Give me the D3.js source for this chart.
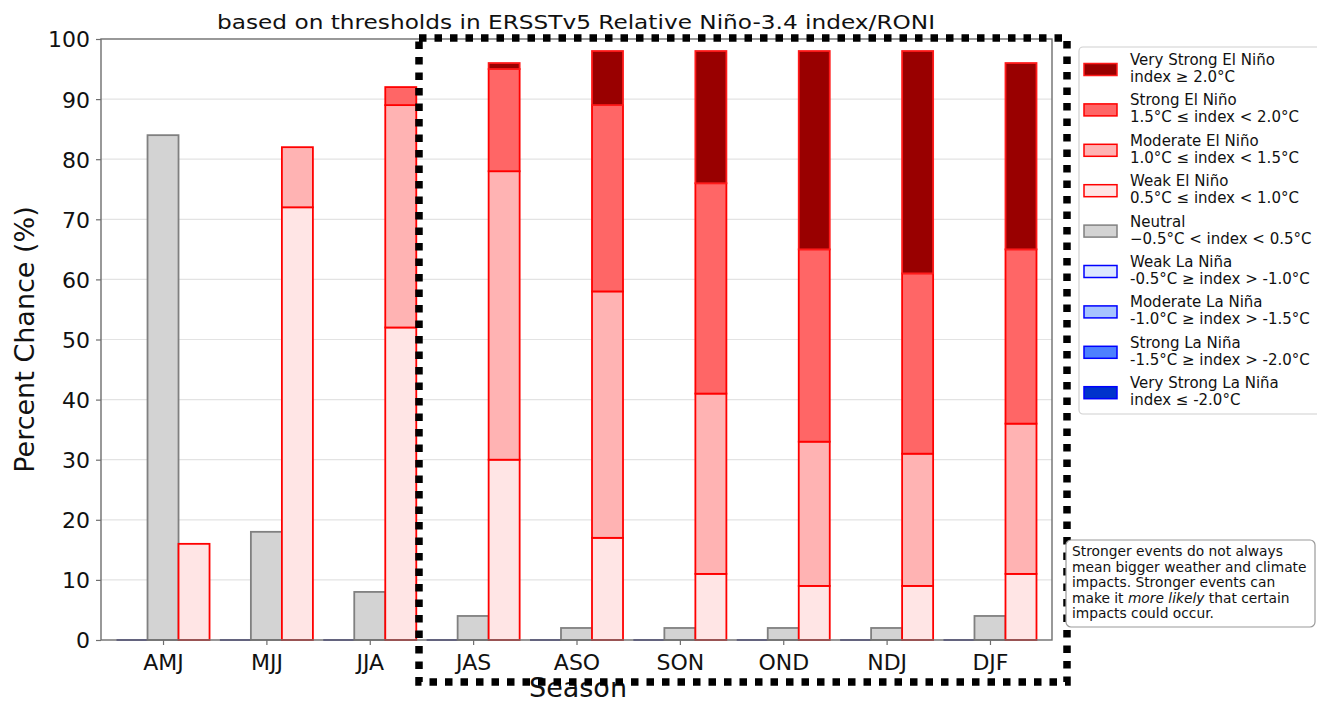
<!DOCTYPE html>
<html>
<head>
<meta charset="utf-8">
<script src="https://cdn.jsdelivr.net/npm/d3@7"></script>
<style>
  body { margin: 0; background: #fff; }
  svg text { font-family: "DejaVu Sans", sans-serif; fill: #111; }
</style>
</head>
<body>
<svg id="chart" width="1317" height="703"></svg>
<script>
// chart data
var seasons = ["AMJ", "MJJ", "JJA", "JAS", "ASO", "SON", "OND", "NDJ", "DJF"];
var neutral   = [84, 18, 8, 4, 2, 2, 2, 2, 4];
var weakEl    = [16, 72, 52, 30, 17, 11, 9, 9, 11];
var modEl     = [0, 10, 37, 48, 41, 30, 24, 22, 25];
var strongEl  = [0, 0, 3, 17, 31, 35, 32, 30, 29];
var vStrongEl = [0, 0, 0, 1, 9, 22, 33, 37, 31];
var weakLa    = [0, 0, 0, 0, 0, 0, 0, 0, 0];
var modLa     = [0, 0, 0, 0, 0, 0, 0, 0, 0];
var strongLa  = [0, 0, 0, 0, 0, 0, 0, 0, 0];
var vStrongLa = [0, 0, 0, 0, 0, 0, 0, 0, 0];
var yTicks = [0, 10, 20, 30, 40, 50, 60, 70, 80, 90, 100];

var legendNames = ["Very Strong El Niño", "Strong El Niño", "Moderate El Niño", "Weak El Niño", "Neutral",
                   "Weak La Niña", "Moderate La Niña", "Strong La Niña", "Very Strong La Niña"];
var legendRanges = ["index ≥ 2.0°C", "1.5°C ≤ index < 2.0°C", "1.0°C ≤ index < 1.5°C", "0.5°C ≤ index < 1.0°C",
                    "\u22120.5°C < index < 0.5°C", "-0.5°C ≥ index > -1.0°C", "-1.0°C ≥ index > -1.5°C",
                    "-1.5°C ≥ index > -2.0°C", "index ≤ -2.0°C"];

var fills = ["#990000", "#ff6666", "#ffb3b3", "#ffe5e5", "#d3d3d3", "#dde8ff", "#a6c3ff", "#4d80ff", "#0033cc"];
var edges = ["#ff1a1a", "#ff0000", "#ff0000", "#ff0000", "#808080", "#0000ff", "#0000ff", "#0000ff", "#0000ff"];

var svg = d3.select("#chart");
var plotL = 101, plotR = 1052, plotT = 39, plotB = 640;

var x = d3.scalePoint().domain(seasons).range([plotL, plotR]).padding(0.6);
var y = d3.scaleLinear().domain([0, 100]).range([plotB, plotT]);
var bw = x.step() * 0.3;

// gridlines
svg.append("g").selectAll("line")
  .data(yTicks.filter(function(d){ return d > 0 && d < 100; }))
  .enter().append("line")
  .attr("x1", plotL).attr("x2", plotR)
  .attr("y1", function(d){ return y(d); }).attr("y2", function(d){ return y(d); })
  .attr("stroke", "#e3e3e3").attr("stroke-width", 1.2);

// La Nina bars (all zero height -> line on the baseline)
svg.append("g").selectAll("line")
  .data(seasons)
  .enter().append("line")
  .attr("x1", function(d){ return x(d) - 1.5 * bw; })
  .attr("x2", function(d){ return x(d) - 0.5 * bw; })
  .attr("y1", function(d, i){ return y(weakLa[i] + modLa[i] + strongLa[i] + vStrongLa[i]); })
  .attr("y2", function(d, i){ return y(weakLa[i] + modLa[i] + strongLa[i] + vStrongLa[i]); })
  .attr("stroke", "#1c1c8f").attr("stroke-width", 1.6);

// neutral bars
svg.append("g").selectAll("rect")
  .data(seasons)
  .enter().append("rect")
  .attr("x", function(d){ return x(d) - 0.5 * bw; })
  .attr("width", bw)
  .attr("y", function(d, i){ return y(neutral[i]); })
  .attr("height", function(d, i){ return y(0) - y(neutral[i]); })
  .attr("fill", fills[4]).attr("stroke", edges[4]).attr("stroke-width", 1.8);

// El Nino stacked bars
var elRows = seasons.map(function(s, i){
  return { season: s, weak: weakEl[i], mod: modEl[i], strong: strongEl[i], vstrong: vStrongEl[i] };
});
var elKeys = ["weak", "mod", "strong", "vstrong"];
var elFill = { weak: fills[3], mod: fills[2], strong: fills[1], vstrong: fills[0] };
var elEdge = { weak: edges[3], mod: edges[2], strong: edges[1], vstrong: edges[0] };
var stacked = d3.stack().keys(elKeys)(elRows);

svg.append("g").selectAll("g")
  .data(stacked)
  .enter().append("g")
  .attr("fill", function(d){ return elFill[d.key]; })
  .attr("stroke", function(d){ return elEdge[d.key]; })
  .selectAll("rect")
  .data(function(d){ return d.filter(function(p){ return p[1] > p[0]; }); })
  .enter().append("rect")
  .attr("x", function(p){ return x(p.data.season) + 0.5 * bw; })
  .attr("width", bw)
  .attr("y", function(p){ return y(p[1]); })
  .attr("height", function(p){ return y(p[0]) - y(p[1]); })
  .attr("stroke-width", 1.8);

// frame
svg.append("rect")
  .attr("x", plotL).attr("y", plotT).attr("width", plotR - plotL).attr("height", plotB - plotT)
  .attr("fill", "none").attr("stroke", "#6e6e6e").attr("stroke-width", 1.4);

// axes
var yAxis = svg.append("g").attr("transform", "translate(" + plotL + ",0)")
  .call(d3.axisLeft(y).tickValues(yTicks).tickSize(5).tickPadding(6));
var xAxis = svg.append("g").attr("transform", "translate(0," + plotB + ")")
  .call(d3.axisBottom(x).tickSize(5).tickPadding(9));
[yAxis, xAxis].forEach(function(a){
  a.select(".domain").remove();
  a.selectAll(".tick line").attr("stroke", "#6e6e6e").attr("stroke-width", 1.2);
  a.selectAll(".tick text").attr("font-size", 22).attr("font-family", "DejaVu Sans").attr("fill", "#111");
});
yAxis.selectAll(".tick text").attr("dy", "0.36em");

// title & axis labels
svg.append("text").attr("x", 217).attr("y", 29)
  .attr("font-size", 20).attr("textLength", 718).attr("lengthAdjust", "spacingAndGlyphs")
  .text("based on thresholds in ERSSTv5 Relative Niño-3.4 index/RONI");
svg.append("text").attr("transform", "translate(34," + (plotT + plotB) / 2 + ") rotate(-90)")
  .attr("text-anchor", "middle").attr("font-size", 27)
  .text("Percent Chance (%)");
svg.append("text").attr("x", 578).attr("y", 697)
  .attr("text-anchor", "middle").attr("font-size", 27)
  .text("Season");

// dotted highlight box
svg.append("rect")
  .attr("x", 419).attr("y", 38).attr("width", 1067 - 419).attr("height", 682 - 38)
  .attr("fill", "none").attr("stroke", "#000").attr("stroke-width", 7.5)
  .attr("stroke-dasharray", "7.5,8");

// legend
var lg = svg.append("g");
lg.append("rect").attr("x", 1079).attr("y", 47).attr("width", 250).attr("height", 367)
  .attr("rx", 4).attr("fill", "#fff").attr("stroke", "#d0d0d0").attr("stroke-width", 1.2);
var item = lg.selectAll("g.item")
  .data(legendNames)
  .enter().append("g").attr("class", "item")
  .attr("transform", function(d, i){ return "translate(0," + (i * 40.4) + ")"; });
item.append("rect").attr("x", 1084).attr("y", 63.5).attr("width", 33).attr("height", 12)
  .attr("fill", function(d, i){ return fills[i]; })
  .attr("stroke", function(d, i){ return edges[i]; }).attr("stroke-width", 1.5);
item.append("text").attr("x", 1130).attr("y", 65).attr("font-size", 15)
  .text(function(d){ return d; });
item.append("text").attr("x", 1130).attr("y", 82).attr("font-size", 15)
  .text(function(d, i){ return legendRanges[i]; });

// note box
var nb = svg.append("g");
nb.append("rect").attr("x", 1066).attr("y", 540).attr("width", 249).attr("height", 87)
  .attr("rx", 5).attr("fill", "#fff").attr("stroke", "#9a9a9a").attr("stroke-width", 1.2);
var noteLines = ["Stronger events do not always", "mean bigger weather and climate",
                 "impacts. Stronger events can", null, "impacts could occur."];
noteLines.forEach(function(t, i){
  var tx = nb.append("text").attr("x", 1072).attr("y", 556 + i * 15.5).attr("font-size", 13.8);
  if (t) { tx.text(t); }
  else {
    tx.append("tspan").text("make it ");
    tx.append("tspan").attr("font-style", "italic").text("more likely");
    tx.append("tspan").text(" that certain");
  }
});
</script>
</body>
</html>
